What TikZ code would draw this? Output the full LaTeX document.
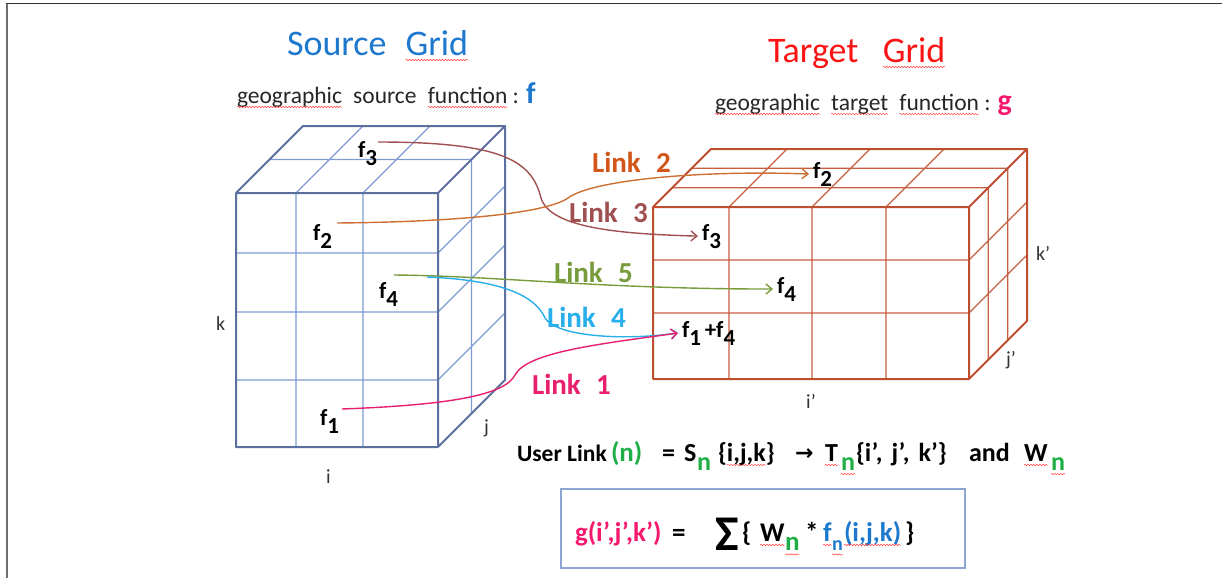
\documentclass[tikz,border=0pt]{standalone}
\usepackage{fontspec}
\setmainfont{Carlito}
\newfontfamily\dejavu{DejaVu Sans}
\usetikzlibrary{arrows.meta,decorations.pathmorphing}
\definecolor{srcout}{RGB}{92,112,160}
\definecolor{srcin}{RGB}{125,155,210}
\definecolor{tgtout}{RGB}{190,78,48}
\definecolor{tgtin}{RGB}{198,95,65}
\definecolor{titleblue}{RGB}{30,120,205}
\definecolor{titlered}{RGB}{250,20,20}
\definecolor{lkone}{RGB}{232,30,110}
\definecolor{lktwotext}{RGB}{210,85,25}
\definecolor{lktwo}{RGB}{205,110,50}
\definecolor{lkthree}{RGB}{160,80,80}
\definecolor{lkfour}{RGB}{40,175,235}
\definecolor{lkfive}{RGB}{120,155,60}
\definecolor{ngreen}{RGB}{30,175,70}
\definecolor{gpink}{RGB}{245,25,110}
\definecolor{fblue}{RGB}{30,120,205}
\definecolor{framegray}{RGB}{110,110,110}
\definecolor{boxblue}{RGB}{140,165,210}
\newcommand\sbs[1]{\raisebox{-0.35em}{#1}}
\newcommand\pc[2]{\makebox[#1pt][l]{#2}}
\newsavebox\sqbox
\newcommand\sq[2][black]{\sbox\sqbox{\color{#1}#2}\rlap{\usebox\sqbox}\tikz[baseline=0pt]{\useasboundingbox (0pt,0pt) rectangle (\wd\sqbox,0pt);\draw[red!75, line width=0.5pt, decorate, decoration={snake,amplitude=0.7pt,segment length=3pt}] (0pt,-4pt) -- (\wd\sqbox,-4pt);}}
\tikzset{
  lbl/.style={inner sep=0pt, outer sep=0pt, anchor=base west},
  flab/.style={lbl, font=\fontsize{23}{26}\selectfont\bfseries},
  linklab/.style={lbl, font=\fontsize{29}{32}\selectfont\bfseries},
  axlab/.style={lbl, font=\fontsize{20}{22}\selectfont, text=black!80},
  titlelab/.style={lbl, font=\fontsize{36}{40}\selectfont},
  sublab/.style={lbl, font=\fontsize{23.5}{26}\selectfont, text=black!85},
  link/.style={line width=1.4pt, -{Straight Barb[length=6pt,width=10pt]}},
  srcinner/.style={srcin, line width=1.2pt},
  srcouter/.style={srcout, line width=2pt, line join=round},
  tgtinner/.style={tgtin, line width=1.2pt},
  tgtouter/.style={tgtout, line width=2pt, line join=round},
}
\begin{document}
\begin{tikzpicture}[x=1pt,y=-1pt]
\useasboundingbox (0,0) rectangle (1222,578);
% frame
\draw[framegray, line width=2pt] (6.5,578) -- (6.5,3.5);
\draw[black!80, line width=1.6pt] (5.5,3.5) -- (1222,3.5);

% source cube
\draw[srcinner] (296,193)--(296,447) (363,193)--(363,447)
  (236,253)--(438,253) (236,312)--(438,312) (236,380)--(438,380)
  (269.5,159.5)--(471.5,159.5) (296,193)--(363,126) (363,193)--(430,126)
  (471.5,159.5)--(471.5,413.5)
  (438,253)--(505,186) (438,312)--(505,245) (438,380)--(505,313);
\draw[srcouter] (236,193) rectangle (438,447)
  (236,193)--(303,126)--(505,126)--(438,193)
  (505,126)--(505,380)--(438,447);

% target cube
\draw[tgtinner] (729,207)--(729,379) (812,207)--(812,379) (886,207)--(886,379)
  (653,260)--(969,260) (653,313)--(969,313)
  (672.3,187.7)--(988.3,187.7) (691.7,168.3)--(1007.7,168.3)
  (729,207)--(787,149) (812,207)--(870,149) (886,207)--(944,149)
  (988.3,187.7)--(988.3,359.7) (1007.7,168.3)--(1007.7,340.3)
  (969,260)--(1027,202) (969,313)--(1027,255);
\draw[tgtouter] (653,207) rectangle (969,379)
  (653,207)--(711,149)--(1027,149)--(969,207)
  (1027,149)--(1027,321)--(969,379);

% titles
\node[titlelab, text=titleblue] (srctitle) at (287,56) {Source\hspace{0.3em} \sq[titleblue]{Grid}};
\node[titlelab, text=titlered] (tgttitle) at (768,63) {Target\hspace{0.45em} \sq[titlered]{Grid}};
\node[sublab] (srcsub) at (237,103) {\sq[black!85]{geographic}\hspace{0.25em} source\hspace{0.25em} \sq[black!85]{function} : {\fontsize{30}{32}\selectfont\bfseries\color{fblue}f}};
\node[sublab] (tgtsub) at (715,110) {\sq[black!85]{geographic}\hspace{0.25em} \sq[black!85]{target}\hspace{0.25em} \sq[black!85]{function} : {\fontsize{30}{32}\selectfont\bfseries\color{gpink}g}};

% axis labels
\node[axlab] (lk) at (216,330) {k};
\node[axlab] (lj) at (484,433) {j};
\node[axlab] (li) at (326,483) {i};
\node[axlab] (lkp) at (1036,260) {k’};
\node[axlab] (ljp) at (1006,365) {j’};
\node[axlab] (lip) at (806,408) {i’};

% source values
\node[flab] (sf3) at (358,157) {f\sbs{3}};
\node[flab] (sf2) at (313,240) {f\sbs{2}};
\node[flab] (sf4) at (379,298) {f\sbs{4}};
\node[flab] (sf1) at (320,425) {f\sbs{1}};
% target values
\node[flab] (tf2) at (813,178) {f\sbs{2}};
\node[flab] (tf3) at (702,240) {f\sbs{3}};
\node[flab] (tf4) at (777,293) {f\sbs{4}};
\node[flab] (tf14) at (682,337) {f\sbs{1}\,+f\sbs{4}};

% link start points
\coordinate (s3) at (378,142);
\coordinate (s2) at (337,223);
\coordinate (s5) at (394,275);
\coordinate (s4) at (427,277);
\coordinate (s1) at (342,409);

% links
\draw[link, lkthree] (s3) .. controls (505,142) and (532,162) .. (541,198)
  .. controls (550,228) and (620,234) .. ([xshift=-4pt]tf3.west);
\draw[link, lktwo] (s2) .. controls (450,222) and (545,214) .. (568,198)
  .. controls (592,180) and (700,170) .. ([xshift=-4pt]tf2.west);
\draw[link, lkfive] (s5) .. controls (500,276) and (600,289) .. ([xshift=-4pt]tf4.west);
\draw[link, lkfour] (s4) .. controls (500,280) and (535,295) .. (545,318)
  .. controls (556,336) and (620,341) .. ([xshift=-4pt]tf14.west);
\draw[link, lkone] (s1) .. controls (450,405) and (505,395) .. (515,375)
  .. controls (527,352) and (600,344) .. ([xshift=-4pt]tf14.west);

% link labels
\node[linklab, text=lktwotext] (l2) at (592,172) {Link\hspace{0.3em} 2};
\node[linklab, text=lkthree] (l3) at (569,222) {Link\hspace{0.3em} 3};
\node[linklab, text=lkfive] (l5) at (554,282) {Link\hspace{0.3em} 5};
\node[linklab, text=lkfour] (l4) at (547,327) {Link\hspace{0.3em} 4};
\node[linklab, text=lkone] (l1) at (532,394) {Link\hspace{0.3em} 1};

% user link line
\node[lbl, font=\fontsize{26}{28}\selectfont\bfseries] (userlink) at (517,461)
  {\pc{94}{\fontsize{23.5}{27}\selectfont User Link}%
   \pc{51}{\fontsize{27}{30}\selectfont\color{ngreen}(n)}%
   \pc{22}{=}%
   \pc{13}{S}%
   \pc{21}{\sbs{\color{ngreen}n}}%
   \pc{77}{\{\sq{i,j,k}\}}%
   \pc{30}{\raisebox{1pt}{\dejavu\bfseries\fontsize{22}{24}\selectfont →}}%
   \pc{16}{\sq{T}}%
   \pc{15}{\sbs{\sq[ngreen]{n}}}%
   \pc{113}{\{i’,\hspace{0.35em}j’,\hspace{0.35em}k’\}}%
   \pc{55}{and}%
   \pc{27}{\sq{W}}%
   \sbs{\sq[ngreen]{n}}};

% formula box
\node[draw=boxblue, line width=1.5pt, minimum width=404pt, minimum height=79pt, inner sep=0pt, anchor=north west] (fbox) at (560,488) {};
\node[lbl, font=\fontsize{27}{30}\selectfont\bfseries] (formula) at (575,541)
  {\pc{97}{\color{gpink}g(i’,j’,k’)}%
   \pc{43}{=}%
   \pc{27}{\raisebox{-9pt}{\fontsize{50}{54}\selectfont Σ}}%
   \pc{18}{\{}%
   \pc{25}{\sq{W}}%
   \pc{20}{\sbs{\sq[ngreen]{n}}}%
   \pc{18}{*}%
   \pc{9}{\sq[fblue]{f}}%
   \pc{12}{\sbs{\fontsize{20}{22}\selectfont\sq[fblue]{n}}}%
   \pc{61}{\sq[fblue]{(i,j,k)}}%
   \}};
\end{tikzpicture}
\end{document}
